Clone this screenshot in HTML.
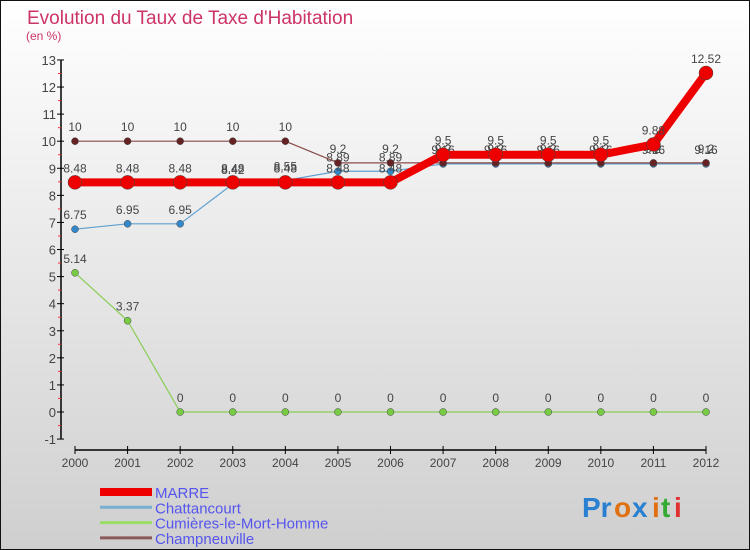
<!DOCTYPE html>
<html><head><meta charset="utf-8"><style>
body{margin:0;}
svg{display:block;font-family:"Liberation Sans",sans-serif;}
</style></head><body>
<svg id="chart" width="750" height="550">
<defs><linearGradient id="bg" x1="0" y1="0" x2="0" y2="1"><stop offset="0" stop-color="#ffffff"/><stop offset="1" stop-color="#cfcfcf"/></linearGradient></defs>
<rect x="0.5" y="0.5" width="749" height="549" fill="url(#bg)" stroke="#111"/>
<text x="27" y="24" font-size="19" fill="#cc3366">Evolution du Taux de Taxe d'Habitation</text>
<text x="26" y="40" font-size="12" fill="#cc3366">(en %)</text>
<g id="axes"></g><g id="series"></g><g id="legend"></g>
<g font-size="28" font-weight="bold">
<text x="582" y="517" fill="#2a80d0">Pr</text><text x="614" y="517" fill="#e07010">o</text><text x="632" y="517" fill="#2a80d0">x</text><text x="652" y="517" fill="#e07010">i</text><text x="661" y="517" fill="#33aa33">t</text><text x="674" y="517" fill="#e03030">i</text>
</g>
</svg>
<script>
const years=[2000,2001,2002,2003,2004,2005,2006,2007,2008,2009,2010,2011,2012];
const marre=[8.48,8.48,8.48,8.48,8.48,8.48,8.48,9.5,9.5,9.5,9.5,9.88,12.52];
const chattancourt=[6.75,6.95,6.95,8.42,8.55,8.89,8.89,9.16,9.16,9.16,9.16,9.16,9.16];
const cumieres=[5.14,3.37,0,0,0,0,0,0,0,0,0,0,0];
const champneuville=[10,10,10,10,10,9.2,9.2,9.2,9.2,9.2,9.2,9.2,9.2];
const yTicks=[-1,0,1,2,3,4,5,6,7,8,9,10,11,12,13];
const seriesNames=["MARRE","Chattancourt","Cumières-le-Mort-Homme","Champneuville"];
const NS="http://www.w3.org/2000/svg";
const x=i=>75+i*(706-75)/(years.length-1);
const y=v=>412-v*27.08;
function mk(tag,attrs,parent,text){const e=document.createElementNS(NS,tag);for(const k in attrs)e.setAttribute(k,attrs[k]);if(text!==undefined)e.textContent=text;parent.appendChild(e);return e;}
const axes=document.getElementById('axes');
const ya=mk('line',{x1:61,y1:y(13),x2:61,y2:y(-1),stroke:'#000','stroke-width':1.5},axes);


yTicks.forEach(t=>{
 mk('line',{x1:57,x2:64,y1:y(t),y2:y(t),stroke:'#000'},axes);
 if(t<13) mk('line',{x1:58,x2:61,y1:y(t+0.5),y2:y(t+0.5),stroke:'#e33'},axes);
 const l=mk('text',{x:56,y:y(t)+5,'font-size':13,fill:'#444','text-anchor':'end'},axes,String(t));
 
 
});
const xa=mk('line',{x1:x(0),x2:x(12),y1:450,y2:450,stroke:'#000','stroke-width':1.5},axes);


years.forEach((yr,i)=>{
 mk('line',{x1:x(i),x2:x(i),y1:446,y2:454,stroke:'#000'},axes);
 const l=mk('text',{x:x(i),y:467,'font-size':12,fill:'#444','text-anchor':'middle'},axes,String(yr));
 
 
});
const sg=document.getElementById('series');
function draw(data,color,lw,r,ptFill,name){
 const g=mk('g',{},sg);
 
 
 mk('polyline',{points:data.map((v,i)=>x(i)+','+y(v)).join(' '),fill:'none',stroke:color,'stroke-width':lw,'stroke-linejoin':'round'},g);
 data.forEach((v,i)=>{
  const c=mk('circle',{cx:x(i),cy:y(v),r:r,fill:ptFill,stroke:'#444','stroke-width':0.5},g);
  
  
  mk('text',{x:x(i),y:y(v)-10,'font-size':12,fill:'#444','text-anchor':'middle'},g,String(v));
 });
}
draw(cumieres,'#88cc55',1.2,3.5,'#77cc44','cumieres');
draw(chattancourt,'#5fa0d0',1.2,3.5,'#3388cc','chattancourt');
draw(champneuville,'#8a4a4a',1.2,3.5,'#662222','champneuville');
draw(marre,'#ee0000',8,7,'#ee0000','marre');
const lg=document.getElementById('legend');
const lc=['#ee0000','#7aaed0','#99dd66','#8a5a5a'],lw=[8,3,3,3];
seriesNames.forEach((n,i)=>{
 const yy=492+i*15.3;
 const g=mk('g',{},lg);
 
 
 mk('line',{x1:100,x2:152,y1:yy,y2:yy,stroke:lc[i],'stroke-width':lw[i]},g);
 mk('text',{x:155,y:yy+6,'font-size':15,fill:'#5555ee'},g,n);
});
</script>
</body></html>
